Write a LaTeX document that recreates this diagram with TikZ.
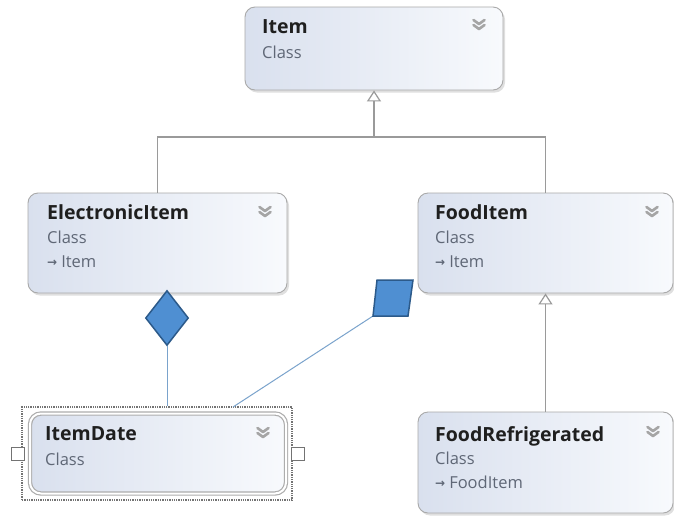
\documentclass[tikz,border=0pt]{standalone}
\usepackage{fontspec}
\setmainfont{Open Sans}
\newfontfamily\dejavu{DejaVu Sans}
\usetikzlibrary{shadows,arrows.meta,shapes.geometric}
\definecolor{boxleft}{HTML}{D9E0EE}
\definecolor{boxright}{HTML}{F8FAFD}
\definecolor{boxline}{HTML}{A9A9A9}
\definecolor{inhline}{HTML}{9A9A9A}
\definecolor{assoc}{HTML}{7AA3CC}
\definecolor{diafill}{HTML}{4F8FD2}
\definecolor{diadraw}{HTML}{2C5A8A}
\definecolor{subtext}{HTML}{5F6776}
\definecolor{chevc}{HTML}{A5A5A5}
\tikzset{
  cls/.style={draw=boxline, line width=0.9pt, rounded corners=10pt, left color=boxleft, right color=boxright,
    drop shadow={opacity=0.25, shadow xshift=2pt, shadow yshift=-2.5pt}, inner sep=0pt},
  title/.style={anchor=base west, inner sep=0pt, font=\fontsize{19.5}{22}\selectfont\bfseries, text=black!88},
  sub/.style={anchor=base west, inner sep=0pt, font=\fontsize{16.5}{19}\selectfont, text=subtext},
  inh/.style={draw=inhline, line width=1.2pt},
  inharrow/.style={inh, {Triangle[open, length=11pt, width=14pt, line width=1.2pt]}-},
  assocline/.style={draw=assoc, line width=1pt},
  diam/.style={draw=diadraw, fill=diafill, line width=1.5pt},
  selbox/.style={draw=black!55, densely dotted, line width=1.3pt, inner sep=0pt},
  handle/.style={draw=black!55, fill=white, line width=0.8pt, minimum size=13pt, inner sep=0pt},
  chev/.pic={\draw[chevc, line width=2.6pt, line cap=round, line join=round] (-5.5,-5) -- (0,-1) -- (5.5,-5) (-5.5,0) -- (0,4) -- (5.5,0);}
}
\newcommand{\inhicon}{{\dejavu\bfseries\fontsize{12}{14}\selectfont\raisebox{1pt}{→}}\hspace{4pt}}
\begin{document}
\begin{tikzpicture}[x=1pt,y=-1pt]
\useasboundingbox[fill=white] (0,0) rectangle (674,515);

% boxes
\node[cls, minimum width=258pt, minimum height=83pt] (item) at (374,48.5) {};
\node[cls, minimum width=259pt, minimum height=100pt] (elec) at (157.5,243) {};
\node[cls, minimum width=255pt, minimum height=100pt] (food) at (545.5,243) {};
\node[cls, minimum width=255pt, minimum height=101pt] (fridge) at (545.5,462.5) {};

% ItemDate selected
\node[selbox, minimum width=270pt, minimum height=93pt] (sel) at (157,453.5) {};
\node[draw=black!32, line width=1.2pt, double=white, double distance=2pt, rounded corners=11pt,
      left color=boxleft, right color=boxright, inner sep=0pt,
      minimum width=256pt, minimum height=80pt] (idate) at (158,453.5) {};
\node[handle] (hl) at (17.5,454) {};
\node[handle] (hr) at (297.5,454) {};

% texts
\node[title] (t1) at (262,33) {Item};
\node[sub] (s1) at (262,58) {Class};
\pic at (479,25) {chev};

\node[title] (t2) at (47,219) {ElectronicItem};
\node[sub] (s2) at (47,243) {Class};
\node[sub] (b2) at (47,267) {\inhicon Item};
\pic at (265,212) {chev};

\node[title] (t3) at (435,219) {FoodItem};
\node[sub] (s3) at (435,243) {Class};
\node[sub] (b3) at (435,267) {\inhicon Item};
\pic at (652,212) {chev};

\node[title] (t4) at (45,440) {ItemDate};
\node[sub] (s4) at (45,465) {Class};
\pic at (263,433) {chev};

\node[title] (t5) at (435,441) {FoodRefrigerated};
\node[sub] (s5) at (435,464) {Class};
\node[sub] (b5) at (435,488) {\inhicon FoodItem};
\pic at (653,432) {chev};

% inheritance
\coordinate (j) at (374,137);
\draw[inharrow] (item.south) -- (j);
\draw[inh] (j) -| (elec.north);
\draw[inh] (j) -| (food.north);
\draw[inharrow] (food.south) -- (fridge.north);

% associations
\node[diam, diamond, minimum width=43pt, minimum height=55pt, inner sep=0pt] (d1) at (167,318) {};
\draw[assocline] (d1.south) -- (d1.south |- sel.north);
\coordinate (p1) at (373,316);
\coordinate (p2) at (233,407);
\draw[assocline] (p1) -- (p2);
\draw[diam] (377,280) -- (413,280) -- (408,316) -- (p1) -- cycle;
\end{tikzpicture}
\end{document}
